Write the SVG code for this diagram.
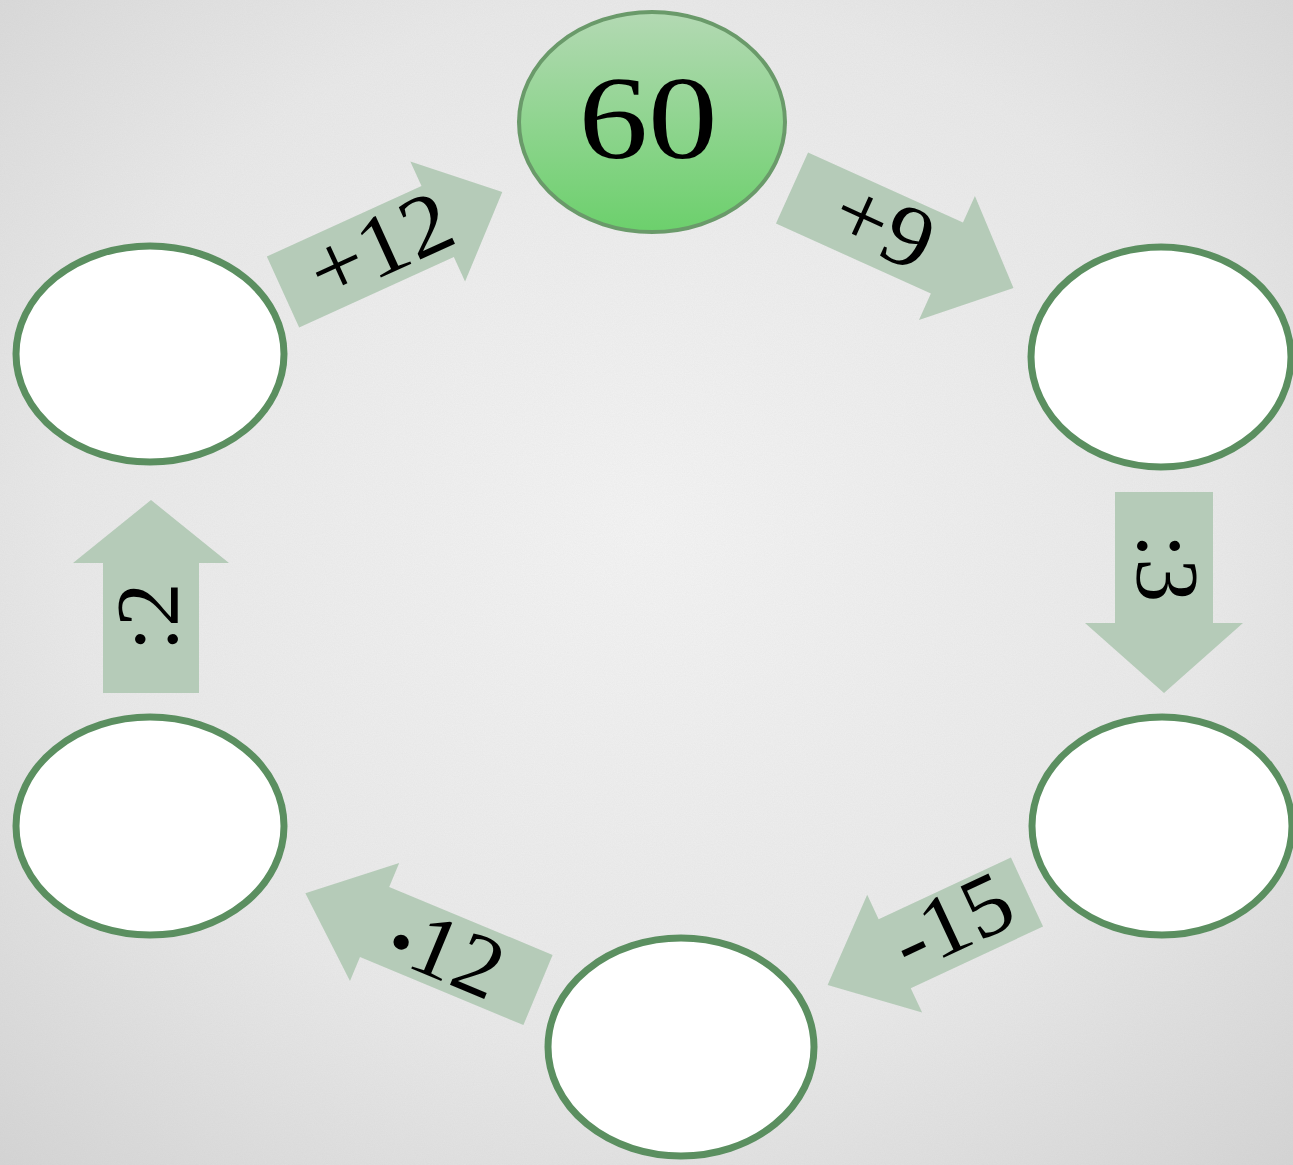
<svg xmlns="http://www.w3.org/2000/svg" width="1293" height="1165" viewBox="0 0 1293 1165">
  <defs>
    <radialGradient id="bg" cx="0.5" cy="0.45" r="0.75">
      <stop offset="0" stop-color="#f4f4f4"/>
      <stop offset="0.6" stop-color="#e9e9e9"/>
      <stop offset="1" stop-color="#d4d4d4"/>
    </radialGradient>
    <linearGradient id="green" x1="0" y1="0" x2="0" y2="1">
      <stop offset="0" stop-color="#b3d9b3"/>
      <stop offset="1" stop-color="#6cd06c"/>
    </linearGradient>
    <filter id="noise" x="0" y="0" width="100%" height="100%">
      <feTurbulence type="fractalNoise" baseFrequency="0.9" numOctaves="2" seed="3"/>
      <feColorMatrix type="matrix" values="0 0 0 0 0.5  0 0 0 0 0.5  0 0 0 0 0.5  0 0 0 0.14 0"/>
    </filter>
  </defs>
  <style>
    .node { fill: #ffffff; stroke: #5b8f60; stroke-width: 7; }
    .start { fill: url(#green); stroke: #6a9a6a; stroke-width: 4; }
    .arrow { fill: #b5cbb8; }
    .lbl { font-family: "Liberation Serif", "Times New Roman", serif; font-size: 88px; fill: #000000; text-anchor: middle; }
    .big { font-family: "Liberation Serif", "Times New Roman", serif; font-size: 118px; fill: #000000; text-anchor: middle; }
  </style>

  <rect width="1293" height="1165" fill="url(#bg)"/>
  <rect width="1293" height="1165" filter="url(#noise)"/>

  <g id="connectors">
    <g id="arrow-plus12">
      <polygon class="arrow" points="0,-39 170,-39 170,-66 241,0 170,66 170,39 0,39" transform="translate(283,292) rotate(-24.5)"/>
      <text class="lbl" transform="translate(380,246) rotate(-24.5) scale(1.08,1)" y="29">+12</text>
    </g>
    <g id="arrow-plus9">
      <polygon class="arrow" points="0,-39 170,-39 170,-68 243,0 170,68 170,39 0,39" transform="translate(792,188) rotate(24.3)"/>
      <text class="lbl" transform="translate(884,226) rotate(24.3) scale(1.08,1)" y="29">+9</text>
    </g>
    <g id="arrow-div3">
      <polygon class="arrow" points="0,-49 131,-49 131,-79 201,0 131,79 131,49 0,49" transform="translate(1164,492) rotate(90)"/>
      <text class="lbl" transform="translate(1167,568) rotate(90)" y="29">:3</text>
    </g>
    <g id="arrow-minus15">
      <polygon class="arrow" points="0,-38 146,-38 146,-65 220,0 146,65 146,38 0,38" transform="translate(1027,892) rotate(155)"/>
      <text class="lbl" transform="translate(952,922) rotate(-25) scale(1.05,1)" y="29">-15</text>
    </g>
    <g id="arrow-times12">
      <polygon class="arrow" points="0,-38 177,-38 177,-64 252,0 177,64 177,38 0,38" transform="translate(538,990) rotate(202.6)"/>
      <text class="lbl" transform="translate(447,952) rotate(22.6) scale(1.05,1)" y="29"><tspan font-size="62">•</tspan>12</text>
    </g>
    <g id="arrow-div2">
      <polygon class="arrow" points="0,-48 130,-48 130,-78 193,0 130,78 130,48 0,48" transform="translate(151,693) rotate(-90)"/>
      <text class="lbl" transform="translate(148,617) rotate(-90)" y="29">:2</text>
    </g>
  </g>

  <g id="node-start">
    <ellipse class="start" cx="652" cy="122" rx="133" ry="110"/>
    <text class="big" transform="translate(648,158) scale(1.18,1)">60</text>
  </g>
  <g id="node-right-top">
    <ellipse class="node" cx="1161" cy="357" rx="130" ry="110"/>
  </g>
  <g id="node-right-bottom">
    <ellipse class="node" cx="1162" cy="826" rx="130" ry="109"/>
  </g>
  <g id="node-bottom">
    <ellipse class="node" cx="681" cy="1047" rx="133" ry="109"/>
  </g>
  <g id="node-left-bottom">
    <ellipse class="node" cx="150" cy="826" rx="134" ry="109"/>
  </g>
  <g id="node-left-top">
    <ellipse class="node" cx="150" cy="354" rx="134" ry="108"/>
  </g>
</svg>
